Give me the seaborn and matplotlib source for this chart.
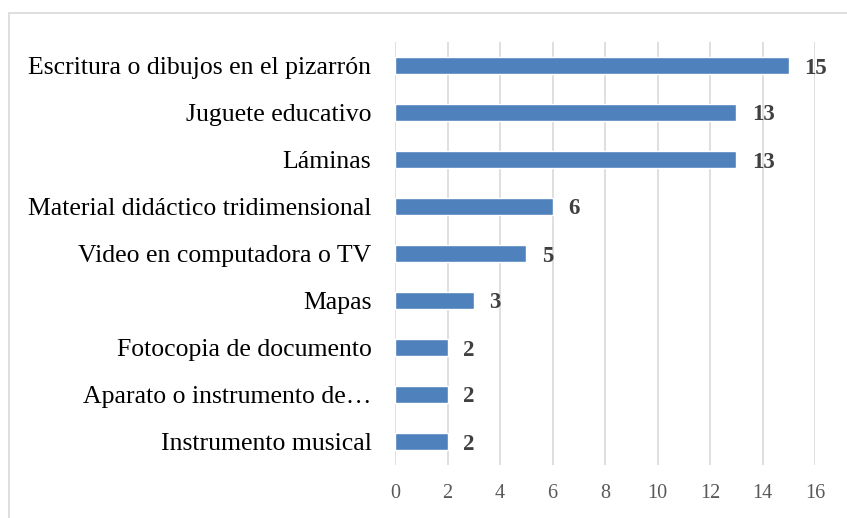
import matplotlib
matplotlib.use("Agg")
import matplotlib.pyplot as plt
import seaborn as sns
import pandas as pd
from matplotlib.lines import Line2D

categories = ["Escritura o dibujos en el pizarrón", "Juguete educativo", "Láminas",
              "Material didáctico tridimensional", "Video en computadora o TV", "Mapas",
              "Fotocopia de documento", "Aparato o instrumento de…", "Instrumento musical"]
values = [15, 13, 13, 6, 5, 3, 2, 2, 2]
xticks = [0, 2, 4, 6, 8, 10, 12, 14, 16]

df = pd.DataFrame({"cat": categories, "val": values})

sns.set_theme(style="white")
plt.rcParams['font.family'] = ['Liberation Serif', 'DejaVu Serif']

fig = plt.figure(figsize=(8.47, 5.18), dpi=100)
ax = fig.add_axes([395/847, 1 - 465/518, 420/847, 423/518])

sns.barplot(data=df, x="val", y="cat", orient="h", color="#4F81BD", saturation=1,
            width=0.37, ax=ax)

ax.set_xlim(0, 16)
ax.set_xticks(xticks)
ax.set_xticklabels([str(t) for t in xticks], color="#595959", fontsize=14.5)
ax.tick_params(axis="y", labelsize=18.5, labelcolor="#000000", length=0, pad=17)
ax.tick_params(axis="x", length=0, pad=14)
ax.grid(axis="x", color="#D9D9D9", linewidth=1.2)
ax.set_axisbelow(True)
for s in ax.spines.values():
    s.set_visible(False)
ax.set_xlabel("")
ax.set_ylabel("")

for i, v in enumerate(values):
    ax.text(v + 0.6, i, str(v), va="center_baseline", ha="left", fontsize=16.5,
            fontweight="bold", color="#404040")

# outer frame
fig.add_artist(Line2D([8.5/847, 8.5/847], [0, 1 - 13/518], transform=fig.transFigure,
                      color="#D9D9D9", linewidth=1.2))
fig.add_artist(Line2D([8.5/847, 1], [1 - 13/518, 1 - 13/518], transform=fig.transFigure,
                      color="#D9D9D9", linewidth=1.2))

fig.savefig("out.png", dpi=100)
